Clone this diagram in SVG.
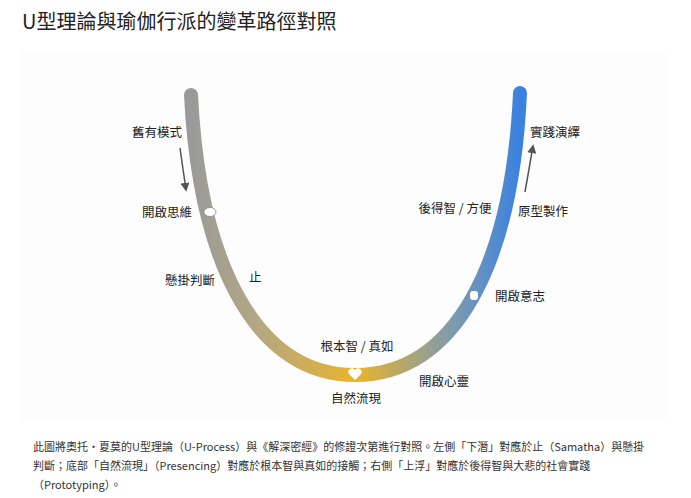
<svg xmlns="http://www.w3.org/2000/svg" width="691" height="498" viewBox="0 0 691 498">
<style>
text{font-family:"Noto Sans CJK TC","Noto Sans CJK SC",sans-serif;fill:#222}
.lb{font-size:12.5px}
.cap{font-size:11px;fill:#333}
</style>
<defs>
<linearGradient id="ug" x1="191" y1="0" x2="520" y2="0" gradientUnits="userSpaceOnUse">
<stop offset="0" stop-color="#9a9a9a"/>
<stop offset="0.2" stop-color="#b3a784"/>
<stop offset="0.5" stop-color="#e9b42c"/>
<stop offset="0.8" stop-color="#7d9ab0"/>
<stop offset="1" stop-color="#3b82e0"/>
</linearGradient>
<marker id="ah" viewBox="0 0 10 10" refX="8" refY="5" markerWidth="6" markerHeight="6" orient="auto"><path d="M0,0L10,5L0,10z" fill="#555"/></marker>
</defs>
<rect width="691" height="498" fill="#fff"/>
<rect x="20" y="50" width="650" height="372" fill="#fdfdfd"/>
<text x="22" y="29" style="font-size:20px">U型理論與瑜伽行派的變革路徑對照</text>
<g id="connectors">
<path d="M191,95 C200,275 262,375 355,375 C455,375 512,265 520,93" fill="none" stroke="url(#ug)" stroke-width="14" stroke-linecap="round"/>
<line x1="180" y1="148" x2="186" y2="190" stroke="#555" stroke-width="1.5" marker-end="url(#ah)"/>
<line x1="525" y1="192" x2="533" y2="146" stroke="#555" stroke-width="1.5" marker-end="url(#ah)"/>
</g>
<g id="icons">
<g id="brain"><ellipse cx="210" cy="212" rx="6" ry="4.5" fill="#fff" stroke="#888" stroke-width="0.8"/></g>
<g id="heart"><path d="M355,380 L349,374 A3,3 0 0 1 355,370 A3,3 0 0 1 361,374 Z" fill="#fff"/></g>
<g id="hand"><rect x="470" y="291" width="8" height="9" rx="3" fill="#fff"/></g>
</g>
<g id="n1"><text class="lb" x="157" y="137" text-anchor="middle">舊有模式</text></g>
<g id="n2"><text class="lb" x="192" y="217" text-anchor="end">開啟思維</text></g>
<g id="n3"><text class="lb" x="215" y="285" text-anchor="end">懸掛判斷</text></g>
<g id="n4"><text class="lb" x="249" y="282">止</text></g>
<g id="n5"><text class="lb" x="357" y="351" text-anchor="middle">根本智 / 真如</text></g>
<g id="n6"><text class="lb" x="356" y="403" text-anchor="middle">自然流現</text></g>
<g id="n7"><text class="lb" x="444" y="386" text-anchor="middle">開啟心靈</text></g>
<g id="n8"><text class="lb" x="495" y="301">開啟意志</text></g>
<g id="n9"><text class="lb" x="455" y="213" text-anchor="middle">後得智 / 方便</text></g>
<g id="n10"><text class="lb" x="518" y="216">原型製作</text></g>
<g id="n11"><text class="lb" x="530" y="137">實踐演繹</text></g>
<g id="caption">
<text class="cap" x="33" y="451">此圖將奧托·夏莫的U型理論（U-Process）與《解深密經》的修證次第進行對照。左側「下潛」對應於止（Samatha）與懸掛</text>
<text class="cap" x="33" y="470">判斷；底部「自然流現」（Presencing）對應於根本智與真如的接觸；右側「上浮」對應於後得智與大悲的社會實踐</text>
<text class="cap" x="33" y="489">（Prototyping）。</text>
</g>
</svg>
